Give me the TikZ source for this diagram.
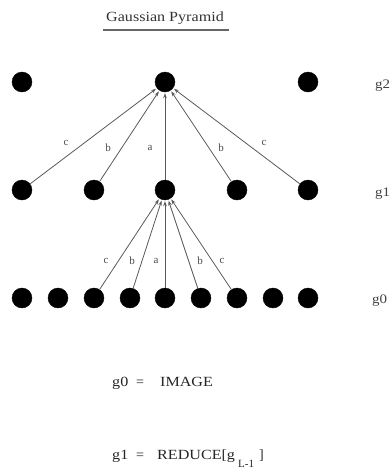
\documentclass[tikz,border=0pt]{standalone}
\usepackage{fontspec}
\setmainfont{Liberation Serif}
\usetikzlibrary{arrows.meta}
\newcommand{\wide}[1]{\scalebox{1.15}[1]{#1}}
\begin{document}
\begin{tikzpicture}[x=1pt,y=-1pt,
  dot/.style={circle,fill=black,draw=black,inner sep=0pt,minimum size=20pt},
  conn/.style={draw=black!65,line width=0.8pt,-{Stealth[length=5pt,width=3.5pt]},shorten >=1pt},
  lbl/.style={font=\fontsize{11}{12}\selectfont,text=black!70,inner sep=0pt},
  lvl/.style={font=\fontsize{13}{14}\selectfont,text=black!75,anchor=west,inner sep=0pt},
  eq/.style={font=\fontsize{14}{16}\selectfont,text=black!85,anchor=base west,inner sep=0pt}]
\useasboundingbox (0,0) rectangle (390,472);
\clip (0,0) rectangle (390,472);
% title
\node[font=\fontsize{14}{16}\selectfont,text=black!80,inner sep=0pt] (title) at (165,18) {\wide{Gaussian Pyramid}};
\draw[black!60,line width=1.4pt] (103,30) -- (229,30);
% top row
\node[dot] (t1) at (22,82) {};
\node[dot] (t2) at (165,82) {};
\node[dot] (t3) at (308,82) {};
% middle row
\foreach \i/\x in {1/22,2/94,3/165,4/237,5/308}
  \node[dot] (m\i) at (\x,190) {};
% bottom row
\foreach \i/\x in {1/22,2/58,3/94,4/130,5/165,6/201,7/237,8/273,9/308}
  \node[dot] (b\i) at (\x,298) {};
% arrows to top
\draw[conn] (m1) -- (t2);
\draw[conn] (m2) -- (t2);
\draw[conn] (m3) -- (t2);
\draw[conn] (m4) -- (t2);
\draw[conn] (m5) -- (t2);
% arrows to middle
\draw[conn] (b3) -- (m3);
\draw[conn] (b4) -- (m3);
\draw[conn] (b5) -- (m3);
\draw[conn] (b6) -- (m3);
\draw[conn] (b7) -- (m3);
% labels upper
\node[lbl] (lc1) at (66,143) {c};
\node[lbl] (lb1) at (108,148) {b};
\node[lbl] (la1) at (150,148) {a};
\node[lbl] (lb2) at (221,148) {b};
\node[lbl] (lc2) at (264,143) {c};
% labels lower
\node[lbl] (lc3) at (106,261) {c};
\node[lbl] (lb3) at (132,261) {b};
\node[lbl] (la3) at (156,261) {a};
\node[lbl] (lb4) at (200,261) {b};
\node[lbl] (lc4) at (222,261) {c};
% level labels
\node[lvl] (g2) at (375,86) {\wide{g2}};
\node[lvl] (g1) at (375,194) {\wide{g1}};
\node[lvl] (g0) at (372,301) {\wide{g0}};
% equations
\node[eq] (e1l) at (112,386) {\wide{g0}};
\node[eq,anchor=base] (e1m) at (140,386) {=};
\node[eq] (e1r) at (160,386) {\wide{IMAGE}};
\node[eq] (e2l) at (112,459) {\wide{g1}};
\node[eq,anchor=base] (e2m) at (140,459) {=};
\node[eq] (e2r) at (157,459) {\wide{REDUCE[g}};
\node[eq,font=\fontsize{11}{12}\selectfont] (e2s) at (238,467) {L-1};
\node[eq] (e2e) at (259,459) {]};
\end{tikzpicture}
\end{document}
